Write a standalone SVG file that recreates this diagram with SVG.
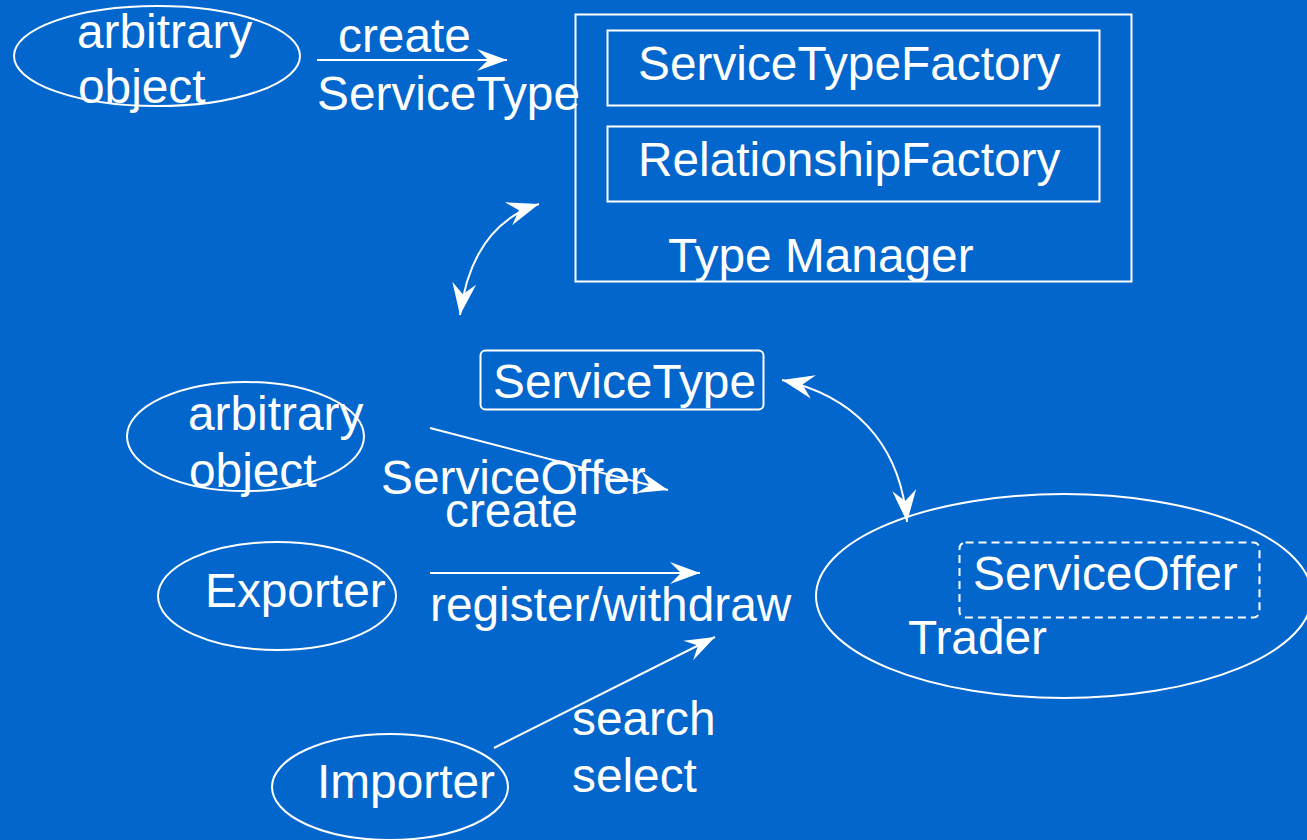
<svg xmlns="http://www.w3.org/2000/svg" width="1307" height="840" viewBox="0 0 1307 840">
<style>
text{font-family:"Liberation Sans",Arial,sans-serif;font-size:47.8px;fill:#fff}
.s{fill:none;stroke:#fff;stroke-width:2}
.c{fill:none;stroke:#fff;stroke-width:2}
</style>
<defs>
<marker id="ah" viewBox="-32 -12 34 24" refX="0" refY="0" markerWidth="34" markerHeight="24" markerUnits="userSpaceOnUse" orient="auto-start-reverse">
<path d="M0,0 L-30,-11 L-19,0 L-30,11 Z" fill="#fff"/>
</marker>
<marker id="ahb" viewBox="-34 -13 36 26" refX="0" refY="0" markerWidth="36" markerHeight="26" markerUnits="userSpaceOnUse" orient="auto-start-reverse">
<path d="M0,0 L-32,-12 L-21,0 L-32,12 Z" fill="#fff"/>
</marker>
</defs>
<rect width="1307" height="840" fill="#0366CC"/>
<g id="obj1"><ellipse class="s" cx="157" cy="56" rx="143" ry="50"/><text x="77" y="48">arbitrary</text><text x="78" y="103">object</text></g>
<g id="typemanager"><rect class="s" x="575.5" y="14.5" width="556" height="267"/><text x="668" y="272">Type Manager</text></g>
<g id="stf"><rect class="s" x="607.5" y="30.5" width="492" height="75"/><text x="638" y="80">ServiceTypeFactory</text></g>
<g id="rf"><rect class="s" x="607.5" y="126.5" width="492" height="75"/><text x="638" y="176">RelationshipFactory</text></g>
<g id="servicetype"><rect class="s" x="480.5" y="350.5" width="283" height="59" rx="5"/><text x="493" y="398">ServiceType</text></g>
<g id="obj2"><ellipse class="s" cx="245.5" cy="436.5" rx="118.5" ry="54.5"/><text x="188" y="430">arbitrary</text><text x="189" y="487">object</text></g>
<g id="exporter"><ellipse class="s" cx="277" cy="596" rx="119" ry="54"/><text x="205" y="607">Exporter</text></g>
<g id="importer"><ellipse class="s" cx="390" cy="787" rx="118" ry="53"/><text x="317" y="798">Importer</text></g>
<g id="trader"><ellipse class="s" cx="1064" cy="596" rx="248" ry="102"/><text x="908" y="654">Trader</text></g>
<g id="serviceoffer"><rect class="s" x="959.5" y="542.5" width="300" height="75" rx="6" stroke-dasharray="8,5"/><text x="973" y="590">ServiceOffer</text></g>
<g id="connectors">
<path class="c" d="M317,60 L507,60" marker-end="url(#ah)"/>
<text x="338" y="52">create</text>
<text x="317" y="110">ServiceType</text>
<path class="c" d="M539,204 C495,218 468,255 460,315" marker-start="url(#ahb)" marker-end="url(#ahb)"/>
<path class="c" d="M782,380 C850,395 900,440 907,522" marker-start="url(#ahb)" marker-end="url(#ahb)"/>
<path class="c" d="M430,428 L668,490" marker-end="url(#ah)"/>
<text x="381" y="494">ServiceOffer</text>
<text x="445" y="527">create</text>
<path class="c" d="M430,573 L700,573" marker-end="url(#ah)"/>
<text x="430" y="621">register/withdraw</text>
<path class="c" d="M494,748 L715,637" marker-end="url(#ah)"/>
<text x="572" y="735">search</text>
<text x="572" y="792">select</text>
</g>
</svg>
